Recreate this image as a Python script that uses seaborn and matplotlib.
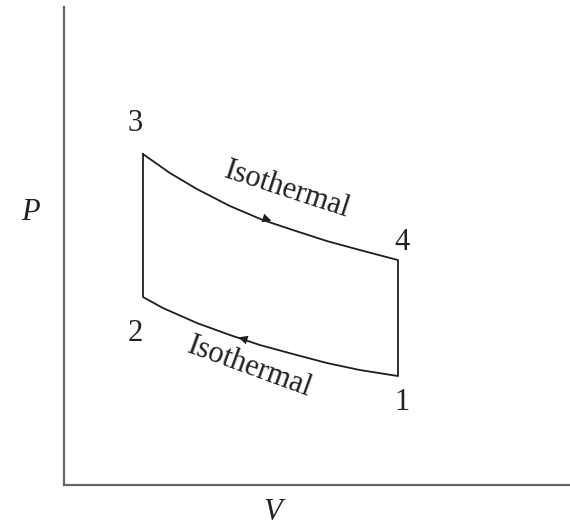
import pandas as pd
import matplotlib.pyplot as plt
import seaborn as sns

# P-V diagram, arbitrary units
upper_v = [0.79, 1.06, 1.33, 1.66, 1.99, 2.29, 2.63, 2.96, 3.34]
upper_p = [3.31, 3.12, 2.96, 2.79, 2.65, 2.55, 2.44, 2.35, 2.25]
lower_v = [0.79, 0.99, 1.33, 1.66, 1.96, 2.29, 2.63, 2.96, 3.34]
lower_p = [1.88, 1.77, 1.62, 1.50, 1.40, 1.31, 1.22, 1.15, 1.09]

state_labels = ['1', '2', '3', '4']
label_v = [3.38, 0.71, 0.71, 3.38]
label_p = [0.83, 1.52, 3.62, 2.43]

# closed path: 3 -> 4 (upper), 4 -> 1, 1 -> 2 (lower, reversed), 2 -> 3
path_v = upper_v + lower_v[::-1] + [upper_v[0]]
path_p = upper_p + lower_p[::-1] + [upper_p[0]]
df = pd.DataFrame({'V': path_v, 'P': path_p})

sns.set_theme(style="white")
plt.rcParams['font.family'] = ['Liberation Serif', 'DejaVu Serif']

fig = plt.figure(figsize=(5.7, 5.31), dpi=100)
ax = fig.add_axes([0.1123, 0.0866, 0.8877, 0.900])

sns.lineplot(data=df, x='V', y='P', sort=False, estimator=None,
             color='#1e1e1e', lw=1.3, ax=ax)

# direction arrows
ax.annotate('', xy=(2.10, 2.635), xytext=(1.96, 2.68),
            arrowprops=dict(arrowstyle='-|>', color='#1e1e1e', lw=0.01,
                            mutation_scale=16))
ax.annotate('', xy=(1.72, 1.485), xytext=(1.88, 1.435),
            arrowprops=dict(arrowstyle='-|>', color='#1e1e1e', lw=0.01,
                            mutation_scale=16))

for lab, v, p in zip(state_labels, label_v, label_p):
    ax.text(v, p, lab, fontsize=22, ha='center', va='center', color='#222222')

ax.text(2.23, 2.95, 'Isothermal', fontsize=22, rotation=-18,
        ha='center', va='center', color='#222222')
ax.text(1.86, 1.18, 'Isothermal', fontsize=22, rotation=-20,
        ha='center', va='center', color='#222222')

ax.set_xlim(0, 5.06)
ax.set_ylim(0, 4.78)
ax.set_xticks([])
ax.set_yticks([])
ax.set_xlabel('')
ax.set_ylabel('')
for side in ['top', 'right']:
    ax.spines[side].set_visible(False)
for side in ['left', 'bottom']:
    ax.spines[side].set_color('#666666')
    ax.spines[side].set_linewidth(1.6)

fig.text(30 / 570, 1 - 213 / 531, 'P', fontsize=22, style='italic',
         ha='center', va='center', color='#222222')
fig.text(273 / 570, 1 - 513 / 531, 'V', fontsize=22, style='italic',
         ha='center', va='center', color='#222222')

fig.savefig('out.png', dpi=100)
plt.close(fig)
